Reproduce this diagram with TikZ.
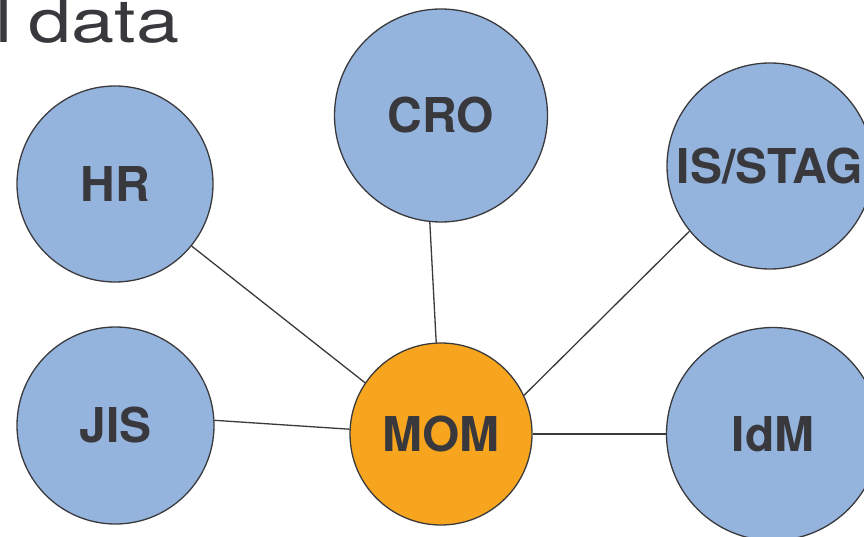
\documentclass[tikz,border=0pt]{standalone}
\usepackage{fontspec}
\setmainfont{TeX Gyre Heros}
\definecolor{nodeblue}{HTML}{94B4DE}
\definecolor{momorange}{HTML}{F7A51E}
\definecolor{darktext}{HTML}{38383D}
\definecolor{edgegrey}{HTML}{3A3A3D}
\begin{document}
\begin{tikzpicture}[x=1pt,y=-1pt,
  sysnode/.style={circle, draw=edgegrey, line width=1.3pt, fill=nodeblue, inner sep=0pt,
    text=darktext, font=\fontsize{48}{48}\selectfont\bfseries},
  hubnode/.style={sysnode, fill=momorange},
  link/.style={draw=edgegrey, line width=1.3pt}]
\useasboundingbox (0,0) rectangle (864,537);
\node[anchor=base west, inner sep=0pt, text=darktext, font=\fontsize{60}{60}\selectfont] (title) at (-5,43) {\scalebox{1.29}[1]{l\hspace{-4pt} data}};
\node[sysnode, minimum size=196pt] (HR) at (115,184) {HR};
\node[sysnode, minimum size=213pt] (CRO) at (441,115.5) {CRO};
\node[sysnode, minimum size=206pt] (IS) at (770,166) {IS/STAG};
\node[sysnode, minimum size=197pt] (JIS) at (115.5,425.5) {JIS};
\node[hubnode, minimum size=182pt] (MOM) at (441,434) {MOM};
\node[sysnode, minimum size=213pt] (IdM) at (773,434) {IdM};
\draw[link] (HR.-39.3) -- (MOM.146.1);
\draw[link] (CRO.264.6) -- (MOM.93.1);
\draw[link] (IS.219.3) -- (MOM.25.2);
\draw[link] (JIS.3.8) -- (MOM.177.5);
\draw[link] (MOM.0) -- (IdM.180);
\end{tikzpicture}
\end{document}
